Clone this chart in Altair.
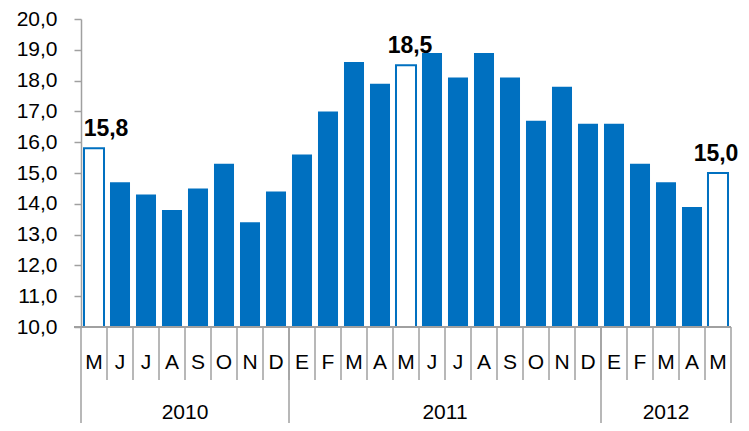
import altair as alt
import pandas as pd

months = ["M", "J", "J", "A", "S", "O", "N", "D",
          "E", "F", "M", "A", "M", "J", "J", "A", "S", "O", "N", "D",
          "E", "F", "M", "A", "M"]
values = [15.8, 14.7, 14.3, 13.8, 14.5, 15.3, 13.4, 14.4,
          15.6, 17.0, 18.6, 17.9, 18.5, 18.9, 18.1, 18.9, 18.1, 16.7, 17.8, 16.6,
          16.6, 15.3, 14.7, 13.9, 15.0]
highlight = [0, 12, 24]
label_shift = [12, 4, -2]
y_ticks = [10, 11, 12, 13, 14, 15, 16, 17, 18, 19, 20]
years = ["2010", "2011", "2012"]
year_start = [0, 8, 20]
year_end = [8, 20, 25]

BLUE = "#0070C0"
GRAY = "#A0A0A0"
FONT = "Liberation Sans"

df = pd.DataFrame({
    "i": list(range(len(values))),
    "m": months,
    "v": values,
    "hl": [i in highlight for i in range(len(values))],
})
ydf = pd.DataFrame({"year": years, "s": year_start, "e": year_end})
bounds_month = pd.DataFrame({"b": list(range(1, len(values)))})
bounds_year = pd.DataFrame({"b": sorted(set(year_start + year_end))})

xs = alt.Scale(domain=[0, len(values)], nice=False, zero=False)
ys = alt.Scale(domain=[10, 20], nice=False, zero=False)
yaxis = alt.Axis(
    values=y_ticks,
    labelExpr="replace(format(datum.value, '.1f'), '.', ',')",
    title=None, grid=False, tickSize=7, tickColor=GRAY, tickWidth=1.5,
    domainColor=GRAY, domainWidth=1.5, labelFontSize=21, labelFont=FONT,
    labelColor="black", labelPadding=17, labelOverlap=False)

base = alt.Chart(df).transform_calculate(
    x0="datum.i + 0.115", x1="datum.i + 0.885", xc="datum.i + 0.5",
    lab="replace(format(datum.v, '.1f'), '.', ',')"
)

bars = base.mark_bar().encode(
    x=alt.X("x0:Q", scale=xs, axis=None),
    x2="x1:Q",
    y=alt.Y("v:Q", scale=ys, axis=yaxis),
    y2=alt.datum(10),
    fill=alt.condition("datum.hl", alt.value("white"), alt.value(BLUE)),
    stroke=alt.value(BLUE),
    strokeWidth=alt.condition("datum.hl", alt.value(2), alt.value(0)),
)

label_layers = []
for idx, shift in zip(highlight, label_shift):
    label_layers.append(
        base.transform_filter(f"datum.i == {idx}").mark_text(
            fontSize=23, fontWeight="bold", font=FONT, color="black",
            baseline="alphabetic", align="center", dy=-12, dx=shift
        ).encode(x=alt.X("xc:Q", scale=xs, axis=None),
                 y=alt.Y("v:Q", scale=ys, axis=yaxis), text="lab:N")
    )

month_text = base.mark_text(fontSize=21, font=FONT, color="black", baseline="middle").encode(
    x=alt.X("xc:Q", scale=xs, axis=None), y=alt.value(344), text="m:N"
)

baseline = alt.Chart(df).mark_rule(color=GRAY, strokeWidth=1.5).encode(
    x=alt.value(-7), x2=alt.value(650), y=alt.value(308)
)

msep = alt.Chart(bounds_month).mark_rule(color=GRAY, strokeWidth=1.5).encode(
    x=alt.X("b:Q", scale=xs, axis=None), y=alt.value(308), y2=alt.value(361)
)
ysep = alt.Chart(bounds_year).mark_rule(color=GRAY, strokeWidth=1.5).encode(
    x=alt.X("b:Q", scale=xs, axis=None), y=alt.value(308), y2=alt.value(404)
)

year_text = alt.Chart(ydf).transform_calculate(c="(datum.s + datum.e) / 2").mark_text(
    fontSize=21, font=FONT, color="black", baseline="middle"
).encode(x=alt.X("c:Q", scale=xs, axis=None), y=alt.value(394), text="year:N")

chart = alt.layer(bars, *label_layers, month_text, baseline, msep, ysep, year_text).properties(
    width=650, height=308,
    padding={"left": 73, "top": 11, "right": 10, "bottom": 96},
    autosize="none",
).configure_view(stroke=None)

chart.save("out.html", embed_options={"renderer": "svg", "actions": False})
